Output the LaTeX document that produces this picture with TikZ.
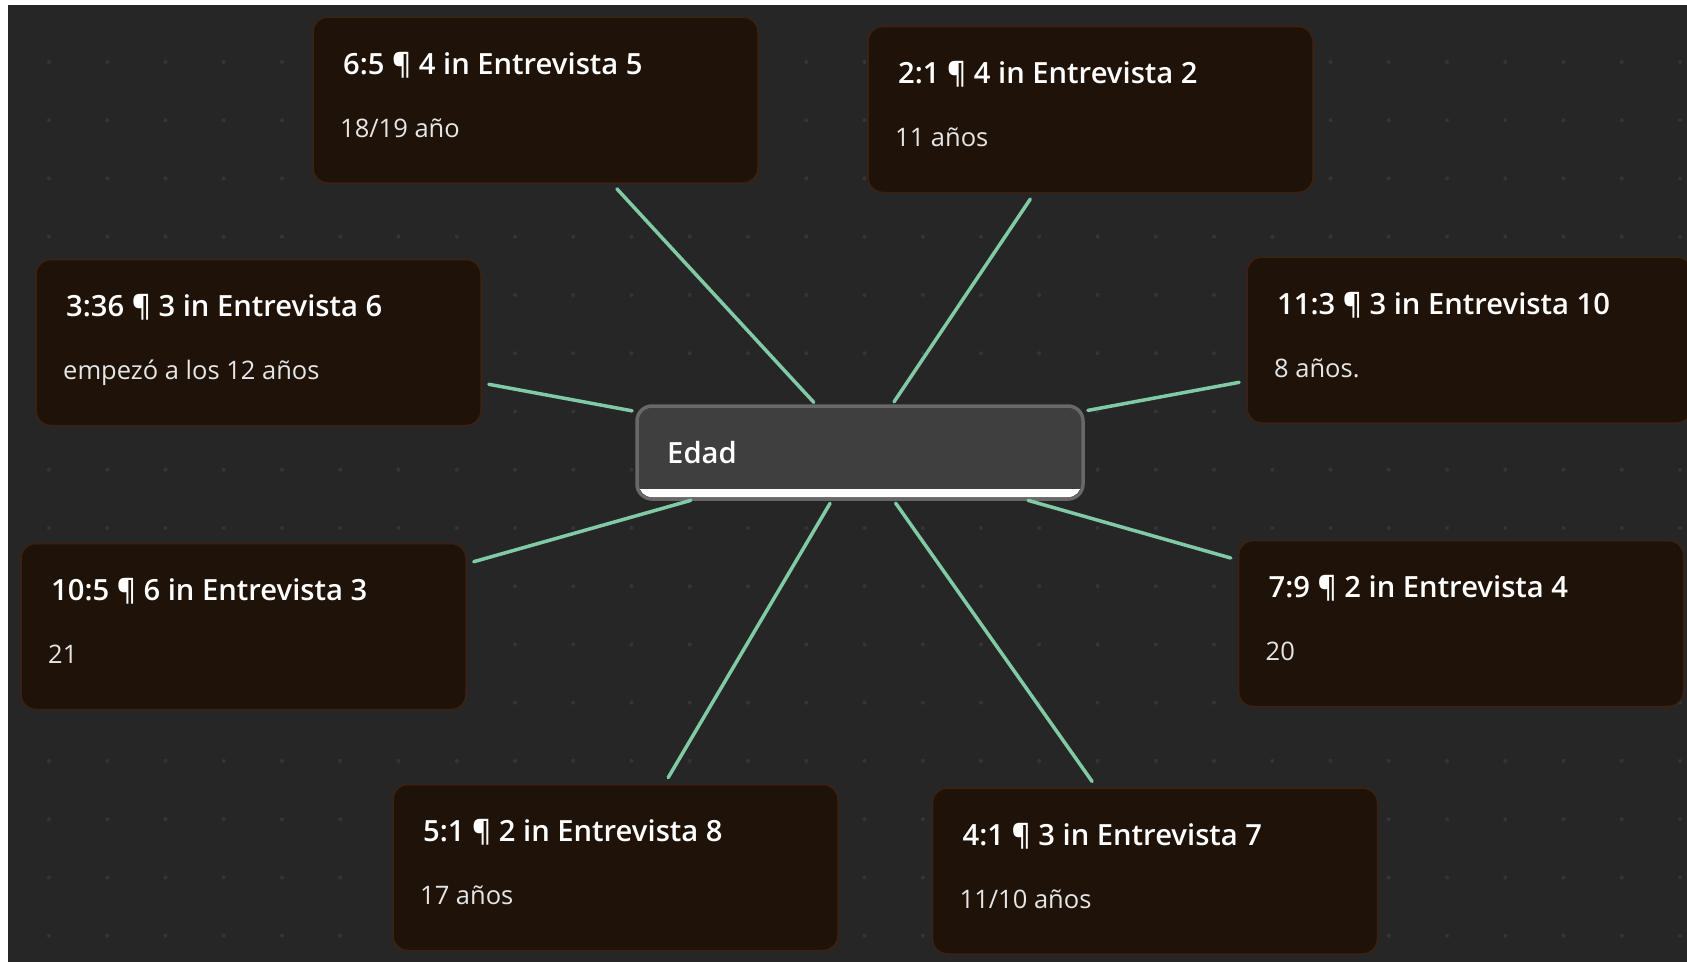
\documentclass[tikz,border=0pt]{standalone}
\usepackage{fontspec}
\setmainfont{Open Sans}
\IfFontExistsTF{Open Sans SemiBold}{\newfontfamily\semibf{Open Sans SemiBold}}{%
  \IfFontExistsTF{Open Sans Semibold}{\newfontfamily\semibf{Open Sans Semibold}}{\newcommand\semibf{\bfseries}}}
\usetikzlibrary{calc}
\definecolor{bgc}{HTML}{262626}
\definecolor{dotc}{HTML}{33353B}
\definecolor{boxfill}{HTML}{1F1309}
\definecolor{boxline}{HTML}{3D2212}
\definecolor{cfill}{HTML}{3F3F3F}
\definecolor{cline}{HTML}{686868}
\definecolor{connc}{HTML}{80CBA5}
\definecolor{bodyc}{HTML}{E6E6E6}
\tikzset{
  card/.style={draw=boxline, line width=1.5pt, fill=boxfill, rounded corners=15pt,
    minimum width=445pt, minimum height=166pt, inner sep=0pt, outer sep=0pt},
  ttl/.style={anchor=base west, inner sep=0pt, text=white, font=\semibf\fontsize{29.2}{34}\selectfont},
  bdy/.style={anchor=base west, inner sep=0pt, text=bodyc, font=\fontsize{25.5}{30}\selectfont},
  link/.style={draw=connc, line width=3.5pt, line cap=round, shorten <=5pt, shorten >=8pt}
}
\newcommand\mkcard[5]{%
  \node[card] (#1) at (#2,#3) {};
  \node[ttl] (#1t) at ($(#1.north west)+(30,57)$) {#4};
  \node[bdy] (#1s) at ($(#1.north west)+(27,120)$) {#5};
}
\begin{document}
\begin{tikzpicture}[x=1pt,y=-1pt]
\useasboundingbox (0,0) rectangle (1687,962);
\clip (0,0) rectangle (1687,962);
\fill[white] (0,0) rectangle (1687,962);
\fill[bgc] (8,5) rectangle (1687,962);
\foreach \i in {0,...,28}{\foreach \j in {1,...,16}{\fill[dotc] ({49+58.25*\i},{3.7+58.25*\j}) circle (2pt);}}

\mkcard{b1}{535.5}{100}{6:5 ¶ 4 in Entrevista 5}{18/19 año}
\mkcard{b2}{1090.5}{109.5}{2:1 ¶ 4 in Entrevista 2}{11 años}
\mkcard{b3}{258.5}{342.5}{3:36 ¶ 3 in Entrevista 6}{empezó a los 12 años}
\mkcard{b4}{1469.5}{340}{11:3 ¶ 3 in Entrevista 10}{8 años.}
\mkcard{b5}{243.5}{626.5}{10:5 ¶ 6 in Entrevista 3}{21}
\mkcard{b6}{1461}{623.5}{7:9 ¶ 2 in Entrevista 4}{20}
\mkcard{b7}{615.5}{867.5}{5:1 ¶ 2 in Entrevista 8}{17 años}
\mkcard{b8}{1155}{871}{4:1 ¶ 3 in Entrevista 7}{11/10 años}

\node[fill=cfill, rounded corners=15pt, minimum width=446pt, minimum height=93pt,
  inner sep=0pt, outer sep=0pt] (c) at (860,452.5) {};
\begin{scope}
  \clip[rounded corners=13.25pt] ($(c.north west)+(1.75,1.75)$) rectangle ($(c.south east)+(-1.75,-1.75)$);
  \fill[white] ($(c.south west)+(0,-10)$) rectangle (c.south east);
\end{scope}
\draw[cline, line width=3.5pt, rounded corners=15pt] (c.north west) rectangle (c.south east);
\node[ttl] (ct) at ($(c.north west)+(30,57)$) {Edad};

\foreach \b in {b1,b2,b3,b4,b5,b6,b7,b8}{\draw[link] (c) -- (\b);}
\end{tikzpicture}
\end{document}
